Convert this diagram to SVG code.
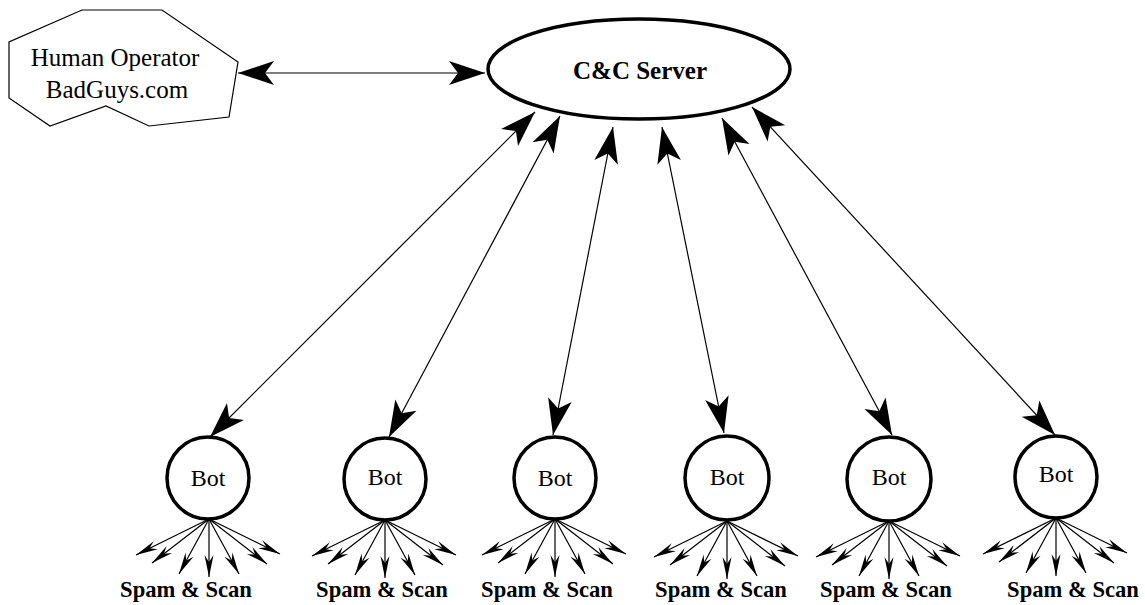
<svg xmlns="http://www.w3.org/2000/svg" width="1145" height="605" viewBox="0 0 1145 605">
<style>
.t{font-family:"Liberation Serif","Times New Roman",serif;fill:#000;text-anchor:middle}
.b{font-weight:bold}
.bot{fill:#fff;stroke:#000;stroke-width:3.5}
.ln{stroke:#000;stroke-width:1.2;fill:none}
.big{marker-start:url(#ah);marker-end:url(#ah)}
.sm{marker-end:url(#as)}
</style>
<defs>
<marker id="ah" markerUnits="userSpaceOnUse" viewBox="-38 -13 39 26" refX="0" refY="0" markerWidth="39" markerHeight="26" orient="auto-start-reverse">
<path d="M0,0 L-36,-12 L-27,0 L-36,12 Z" fill="#000"/>
</marker>
<marker id="as" markerUnits="userSpaceOnUse" viewBox="-24 -6 25 12" refX="0" refY="0" markerWidth="25" markerHeight="12" orient="auto">
<path d="M0,0 L-22,-4.5 L-15,0 L-22,4.5 Z" fill="#000"/>
</marker>
<g id="fan">
<path class="ln sm" d="M0,0 L-73,36"/>
<path class="ln sm" d="M0,0 L-57,44"/>
<path class="ln sm" d="M0,0 L-30,55"/>
<path class="ln sm" d="M0,0 L0,58"/>
<path class="ln sm" d="M0,0 L30,55"/>
<path class="ln sm" d="M0,0 L58,45"/>
<path class="ln sm" d="M0,0 L71,35"/>
</g>
</defs>
<g id="connectors">
<path class="ln big" d="M238,73 L485,73"/>
<path class="ln big" d="M535,112 L210,437"/>
<path class="ln big" d="M560,116 L389,437"/>
<path class="ln big" d="M613,127 L553,435"/>
<path class="ln big" d="M662,127 L724,433"/>
<path class="ln big" d="M722,118 L892,435"/>
<path class="ln big" d="M752,107 L1055,435"/>
<use href="#fan" x="209" y="519"/>
<use href="#fan" x="385" y="520"/>
<use href="#fan" x="555" y="519"/>
<use href="#fan" x="727" y="521"/>
<use href="#fan" x="889" y="521"/>
<use href="#fan" x="1056" y="518"/>
</g>
<g id="operator">
<polygon points="82,10 162,10 238,62 229,117 149,126 106,106 50,126 9,98 9,42" fill="#fff" stroke="#000" stroke-width="1.2"/>
<text class="t" x="115" y="66" font-size="25">Human Operator</text>
<text class="t" x="117" y="98" font-size="25">BadGuys.com</text>
</g>
<g id="server">
<ellipse cx="639" cy="69" rx="151" ry="50" fill="#fff" stroke="#000" stroke-width="3.5"/>
<text class="t b" x="640" y="79" font-size="25">C&amp;C Server</text>
</g>
<g id="bot1">
<circle class="bot" cx="208" cy="478" r="41"/>
<text class="t" x="208" y="486" font-size="24">Bot</text>
<text class="t b" x="186" y="597" font-size="22.6">Spam &amp; Scan</text>
</g>
<g id="bot2">
<circle class="bot" cx="385" cy="479" r="41"/>
<text class="t" x="385" y="485" font-size="24">Bot</text>
<text class="t b" x="382" y="597" font-size="22.6">Spam &amp; Scan</text>
</g>
<g id="bot3">
<circle class="bot" cx="555" cy="478" r="41"/>
<text class="t" x="555" y="486" font-size="24">Bot</text>
<text class="t b" x="547" y="597" font-size="22.6">Spam &amp; Scan</text>
</g>
<g id="bot4">
<circle class="bot" cx="727" cy="478" r="42"/>
<text class="t" x="727" y="485" font-size="24">Bot</text>
<text class="t b" x="721" y="597" font-size="22.6">Spam &amp; Scan</text>
</g>
<g id="bot5">
<circle class="bot" cx="889" cy="479" r="42"/>
<text class="t" x="889" y="485" font-size="24">Bot</text>
<text class="t b" x="886" y="597" font-size="22.6">Spam &amp; Scan</text>
</g>
<g id="bot6">
<circle class="bot" cx="1056" cy="477" r="41"/>
<text class="t" x="1056" y="482" font-size="24">Bot</text>
<text class="t b" x="1073" y="597" font-size="22.6">Spam &amp; Scan</text>
</g>
</svg>
